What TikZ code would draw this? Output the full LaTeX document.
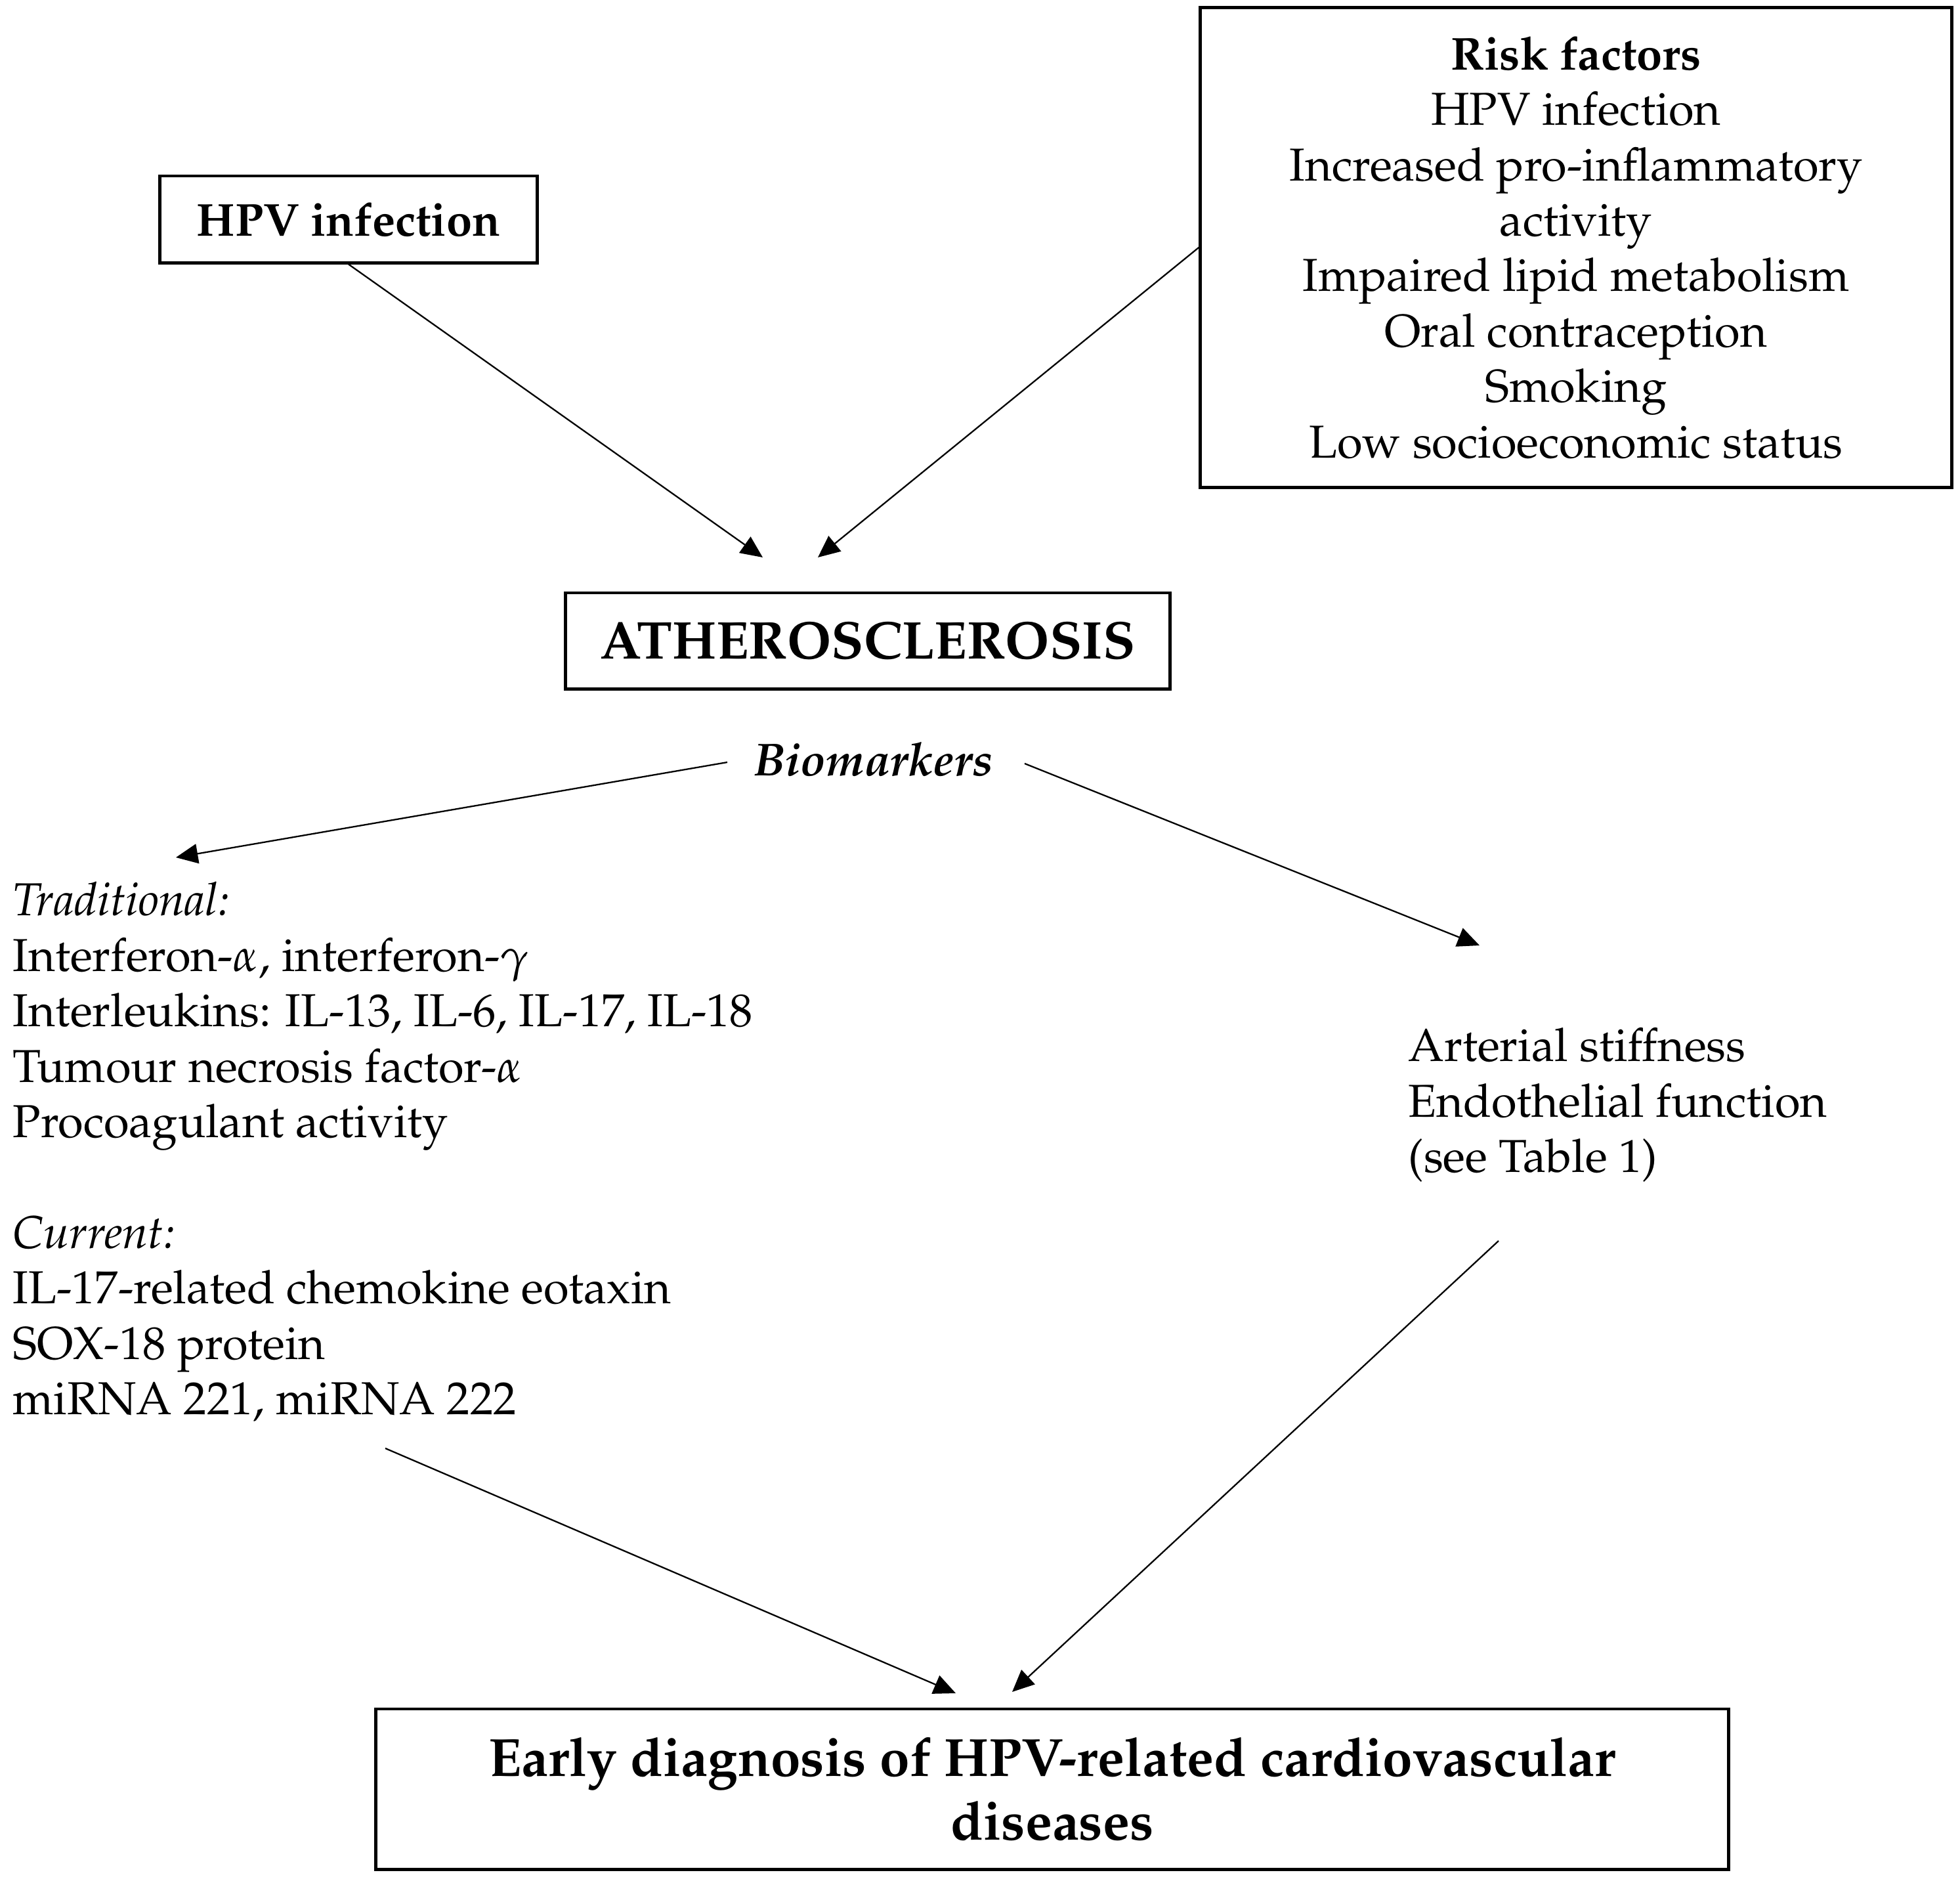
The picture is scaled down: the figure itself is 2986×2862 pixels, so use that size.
\documentclass[tikz,border=0pt]{standalone}
\usepackage[T1]{fontenc}
\usepackage{mathpazo}
\usetikzlibrary{arrows.meta}
\begin{document}
\begin{tikzpicture}[x=0.01cm,y=-0.01cm,
  box/.style={draw,line width=1.4pt,inner sep=0pt,align=center},
  conn/.style={line width=0.65pt,-{Triangle[length=9.5pt,width=8.5pt]}},
  body/.style={inner sep=0pt,align=left,font=\fontsize{20}{24}\selectfont}]
\useasboundingbox[fill=white] (0,0) rectangle (2986,2862);
% boxes
\node[box,minimum width=5.75cm,minimum height=1.32cm,font=\fontsize{20}{24}\selectfont\bfseries] (hpv) at (531,334) {HPV infection};
\node[box,minimum width=11.44cm,minimum height=7.30cm,font=\fontsize{20}{24}\selectfont] (risk) at (2401,377)
  {\textbf{Risk factors}\\HPV infection\\Increased pro-inflammatory\\activity\\Impaired lipid metabolism\\Oral contraception\\Smoking\\Low socioeconomic status};
\node[box,minimum width=9.20cm,minimum height=1.46cm,font=\fontsize{23}{27.6}\selectfont\bfseries] (ath) at (1322,976) {ATHEROSCLEROSIS};
\node[box,minimum width=20.59cm,minimum height=2.44cm,font=\fontsize{23.3}{27.5}\selectfont\bfseries] (diag) at (1603,2725)
  {Early diagnosis of HPV-related cardiovascular\\diseases};
% texts
\node[inner sep=0pt,anchor=base,font=\fontsize{20}{24}\selectfont\bfseries\itshape] (bio) at (1331,1181) {Biomarkers};
\node[body,anchor=north west] (trad) at (19,1335)
  {\strut\textit{Traditional:}\\
   Interferon-$\alpha$, interferon-$\gamma$\\
   Interleukins: IL-13, IL-6, IL-17, IL-18\\
   Tumour necrosis factor-$\alpha$\\
   Procoagulant activity\\[24pt]
   \textit{Current:}\\
   IL-17-related chemokine eotaxin\\
   SOX-18 protein\\
   miRNA 221, miRNA 222};
\node[body,anchor=north west] (func) at (2145,1557)
  {\strut Arterial stiffness\\Endothelial function\\(see Table 1)};
% coordinates
\coordinate (a1) at (1162,849);
\coordinate (a2) at (1246,849);
\coordinate (b1) at (1108,1161);
\coordinate (t1) at (268,1306);
\coordinate (b2) at (1561,1163);
\coordinate (t2) at (2254,1440);
\coordinate (c1) at (587,2206);
\coordinate (t3) at (1456,2579);
\coordinate (c2) at (2283,1890);
\coordinate (t4) at (1542,2577);
% connectors
\draw[conn] (hpv.south) -- (a1);
\draw[conn] (risk.west) -- (a2);
\draw[conn] (b1) -- (t1);
\draw[conn] (b2) -- (t2);
\draw[conn] (c1) -- (t3);
\draw[conn] (c2) -- (t4);
\end{tikzpicture}
\end{document}
